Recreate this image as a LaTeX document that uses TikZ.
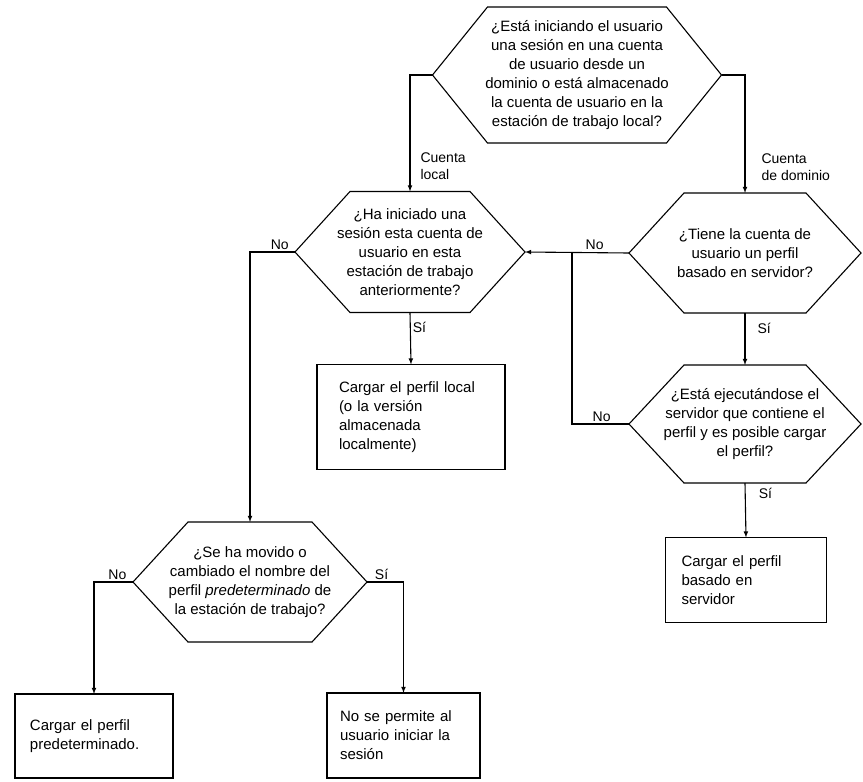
\documentclass[tikz,border=0pt]{standalone}
\usepackage{fontspec}
\setmainfont{Liberation Sans}
\usepackage{tikz}

\newcommand{\hexcut}{55pt}
\tikzset{
  ask/.style={rectangle, align=center, inner sep=0pt, outer sep=0pt, font=\fontsize{15}{19}\selectfont},
  act/.style={rectangle, draw, align=left, inner ysep=0pt, outer sep=0pt, font=\fontsize{15}{19}\selectfont},
  lbl/.style={font=\fontsize{14}{17}\selectfont, inner sep=2pt, align=left}
}

\begin{document}
\begin{tikzpicture}[x=1pt, y=-1pt, line width=1.1pt]
        \fill[white] (0,0) rectangle (863,782);
        \useasboundingbox (0,0) rectangle (863,782);
        % Questions
        \node[ask, minimum width=289pt, minimum height=136pt] (top) at (577,75)
            {¿Está iniciando el usuario\\una sesión en una cuenta\\de usuario desde un\\dominio o está almacenado\\la cuenta de usuario en la\\estación de trabajo local?};
        \node[ask, minimum width=230pt, minimum height=121pt] (loc) at (410,252)
            {¿Ha iniciado una\\sesión esta cuenta de\\usuario en esta\\estación de trabajo\\anteriormente?};
        \node[ask, minimum width=232pt, minimum height=120pt] (dom) at (745,253)
            {¿Tiene la cuenta de\\usuario un perfil\\basado en servidor?};
        \node[ask, minimum width=232pt, minimum height=118pt] (srv) at (745,424)
            {¿Está ejecutándose el\\servidor que contiene el\\perfil y es posible cargar\\el perfil?};
        \node[ask, minimum width=234pt, minimum height=120pt] (mov) at (250,582)
            {¿Se ha movido o\\cambiado el nombre del\\perfil \textit{predeterminado} de\\la estación de trabajo?};
        \foreach \n in {top,loc,dom,srv,mov}
            \draw (\n.west) -- ([xshift=\hexcut]\n.north west) -- ([xshift=-\hexcut]\n.north east)
                -- (\n.east) -- ([xshift=-\hexcut]\n.south east) -- ([xshift=\hexcut]\n.south west) -- cycle;
        % Results
        \node[act, inner xsep=22pt, text width=144pt, minimum height=105pt] (perfloc) at (411,417)
            {Cargar el perfil local\\(o la versión\\almacenada\\localmente)};
        \node[act, inner xsep=16pt, text width=129pt, minimum height=85pt] (perfsrv) at (746,580)
            {Cargar el perfil\\basado en\\servidor};
        \node[act, inner xsep=15pt, text width=128pt, minimum height=84pt] (perfpred) at (94,736)
            {Cargar el perfil\\predeterminado.};
        \node[act, inner xsep=13pt, text width=127pt, minimum height=85pt] (nolog) at (403.5,735.5)
            {No se permite al\\usuario iniciar la\\sesión};
        % Links
        \draw[-latex] (top.west) -| (loc.north) node[lbl, pos=0.89, right=8pt] (cl) {Cuenta\\local};
        \draw[-latex] (top.east) -| (dom.north) node[lbl, pos=0.89, right=14pt] (cd) {Cuenta\\de dominio};
        \draw[-latex] (dom.west) -- (loc.east) node[lbl, pos=0.33, above] (no1) {No};
        \draw[-latex] (loc.west) -| (mov.north) node[lbl, pos=0.17, above] (no2) {No};
        \draw[-latex] (loc.south) -- (perfloc.north) node[lbl, pos=0.29, right] (si1) {Sí};
        \draw[-latex] (dom.south) -- (srv.north) node[lbl, pos=0.3, right=10pt] (si2) {Sí};
        \coordinate (join) at (572,253);
        \draw (srv.west) -| (join) node[lbl, pos=0.24, above] (no3) {No};
        \draw[-latex] (srv.south) -- (perfsrv.north) node[lbl, pos=0.2, right=11pt] (si3) {Sí};
        \draw[-latex] (mov.west) -| (perfpred.north) node[lbl, pos=0.2, above] (no4) {No};
        \draw[-latex] (mov.east) -| (nolog.north) node[lbl, pos=0.2, above] (si4) {Sí};
\end{tikzpicture}
\end{document}
